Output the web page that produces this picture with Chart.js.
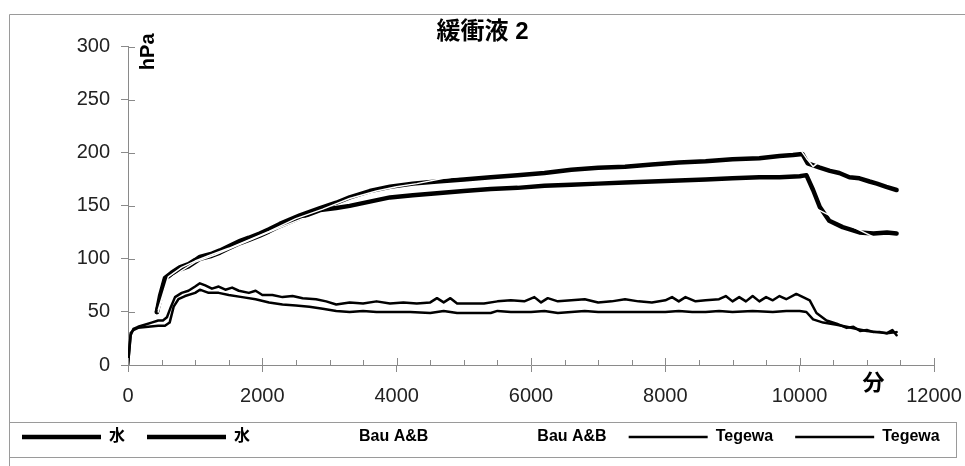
<!DOCTYPE html>
<html>
<head>
<meta charset="utf-8">
<script src="https://cdn.jsdelivr.net/npm/chart.js@4.4.0/dist/chart.umd.min.js"></script>
<style>
  html, body { margin: 0; padding: 0; background: #fff; }
  canvas { display: block; }
</style>
</head>
<body>
<canvas id="buffer" width="965" height="466"></canvas>
<script>

	/* Data: time in minutes, pressure in hPa */
	var chartTitle = '緩衝液 2';
	var seriesNames = ['水', '水', 'Bau A&B', 'Bau A&B', 'Tegewa', 'Tegewa'];
	var xTicks = [0, 2000, 4000, 6000, 8000, 10000, 12000];
	var yTicks = [0, 50, 100, 150, 200, 250, 300];

	var water1Time = [430, 480, 550, 650, 770, 900, 1000, 1070, 1250, 1370, 1500, 1670, 1800, 1960, 2100, 2260, 2560, 2860, 3100, 3300, 3600, 3900, 4240, 4600, 5000, 5400, 5800, 6200, 6600, 7000, 7400, 7800, 8200, 8600, 9000, 9400, 9700, 9900, 10040, 10120, 10300, 10450, 10590, 10740, 10890, 11040, 11150, 11290, 11443];
	var water1 = [50, 66, 82, 87, 92, 95, 99, 102, 105, 108, 112, 117, 120, 124, 128, 133, 141, 148, 153, 158, 164, 168, 171, 173, 175, 177, 179, 181, 184, 186, 187, 189, 191, 192, 194, 195, 197, 198, 199, 190, 186, 183, 181, 177, 176, 173, 171, 168, 165];

	var water2Time = [430, 480, 550, 650, 770, 900, 1070, 1250, 1370, 1500, 1670, 1800, 1960, 2100, 2260, 2560, 2860, 3100, 3300, 3600, 3900, 4240, 4600, 5000, 5400, 5800, 6200, 6600, 7000, 7400, 7800, 8200, 8600, 9000, 9400, 9700, 10000, 10100, 10200, 10300, 10440, 10640, 10890, 11100, 11300, 11443];
	var water2 = [50, 62, 80, 86, 90, 93, 100, 103, 106, 110, 115, 118, 122, 126, 131, 139, 146, 148, 150, 154, 158, 160, 162, 164, 166, 167, 169, 170, 171, 172, 173, 174, 175, 176, 177, 177, 178, 179, 165, 149, 136, 130, 125, 124, 125, 124];

	var bau1Time = [450, 600, 800, 1000, 1200, 1500, 1800, 2100, 2500, 2900, 3300, 3700, 4000, 4300, 4700, 5200, 6000, 7000, 8000, 9000, 10000, 10100, 10200, 10300, 11443];
	var bau1 = [52, 83, 92, 98, 103, 110, 118, 126, 138, 147, 157, 164, 168, 171, 176, 180, 185, 190, 195, 199, 204, 195, 187, 192, 185];

	var bau2Time = [450, 600, 800, 1000, 1300, 1600, 1900, 2200, 2600, 3000, 4000, 6000, 8000, 10000, 11443];
	var bau2 = [50, 80, 89, 97, 104, 112, 120, 128, 138, 140, 145, 150, 153, 155, 110];

	var tegewa1Time = [0, 40, 80, 150, 250, 350, 450, 520, 580, 640, 700, 800, 900, 1000, 1070, 1150, 1250, 1350, 1450, 1550, 1650, 1800, 1900, 2000, 2150, 2300, 2450, 2600, 2800, 2950, 3100, 3300, 3500, 3700, 3900, 4100, 4300, 4500, 4600, 4700, 4800, 4900, 5100, 5300, 5500, 5700, 5900, 6050, 6150, 6250, 6400, 6600, 6800, 7000, 7200, 7400, 7600, 7800, 8000, 8100, 8200, 8300, 8450, 8600, 8800, 8900, 9000, 9100, 9200, 9300, 9400, 9500, 9600, 9700, 9800, 9950, 10050, 10150, 10250, 10400, 10550, 10700, 10800, 10900, 11000, 11100, 11200, 11300, 11380, 11443];
	var tegewa1 = [0, 28, 34, 36, 38, 40, 42, 42, 45, 55, 64, 68, 70, 74, 77, 75, 72, 74, 71, 73, 70, 68, 70, 66, 66, 64, 65, 63, 62, 60, 57, 59, 58, 60, 58, 59, 58, 59, 63, 59, 63, 58, 58, 58, 60, 61, 60, 64, 59, 63, 60, 61, 62, 59, 60, 62, 60, 59, 61, 64, 60, 64, 60, 61, 62, 65, 60, 64, 60, 65, 60, 64, 61, 65, 62, 67, 64, 61, 49, 42, 39, 35, 36, 32, 33, 31, 31, 30, 33, 28];

	var tegewa2Time = [0, 40, 80, 150, 300, 450, 550, 620, 680, 750, 850, 1000, 1070, 1200, 1350, 1500, 1700, 1900, 2100, 2300, 2500, 2700, 2900, 3100, 3300, 3500, 3700, 3900, 4200, 4500, 4700, 4900, 5100, 5400, 5500, 5700, 6000, 6200, 6400, 6600, 6800, 7000, 7300, 7600, 8000, 8200, 8400, 8600, 8800, 9000, 9300, 9600, 9800, 10000, 10100, 10200, 10350, 10550, 10700, 10850, 11000, 11150, 11300, 11443];
	var tegewa2 = [0, 30, 33, 35, 36, 37, 37, 40, 55, 62, 65, 68, 71, 68, 68, 66, 64, 62, 59, 57, 56, 55, 53, 51, 50, 51, 50, 50, 50, 49, 51, 49, 49, 49, 51, 50, 50, 51, 49, 50, 51, 50, 50, 50, 50, 51, 50, 50, 51, 50, 51, 50, 51, 51, 50, 43, 40, 38, 36, 34, 32, 31, 30, 31];


	/* Helpers */
	function toPoints(times, values) {
		var points = [];
		times.forEach(function(t, i) {
			points.push({ x: t, y: values[i] });
		});
		return points;
	}

	function plainNumber(value) {
		return String(value);
	}

	var fontFamily = "'Liberation Sans', Arial, 'Noto Sans CJK JP', sans-serif";
	var axisGrey = '#8a8a8a';
	var minorStep = 500;


	/* Frame, legend box, tick marks inside the plot and unit labels */
	var decorations = {
		id: 'decorations',
		afterDraw: function(chart) {
			var ctx = chart.ctx;
			var area = chart.chartArea;
			var xs = chart.scales.x;
			var ys = chart.scales.y;
			var legend = chart.legend;

			ctx.save();
			ctx.strokeStyle = axisGrey;
			ctx.lineWidth = 1;
			ctx.beginPath();
			for (var v = xs.min; v <= xs.max; v += minorStep) {
				var px = Math.round(xs.getPixelForValue(v)) + 0.5;
				var len = (v % 2000 === 0) ? 7 : 5;
				ctx.moveTo(px, area.bottom);
				ctx.lineTo(px, area.bottom - len);
			}
			yTicks.forEach(function(t) {
				var py = Math.round(ys.getPixelForValue(t)) + 0.5;
				ctx.moveTo(area.left, py);
				ctx.lineTo(area.left + 7, py);
			});
			ctx.stroke();

			// outer frame (runs past the picture on the right and bottom) + legend box
			var legendTop = Math.round(legend.top + 15) + 0.5;
			var legendBottom = Math.round(legend.bottom + 2) + 0.5;
			ctx.strokeStyle = '#9a9a9a';
			ctx.beginPath();
			ctx.moveTo(9.5, chart.height);
			ctx.lineTo(9.5, 14.5);
			ctx.lineTo(chart.width, 14.5);
			ctx.stroke();
			ctx.strokeRect(9.5, legendTop, chart.width - 18, legendBottom - legendTop);

			// unit labels
			ctx.fillStyle = '#000';
			ctx.textAlign = 'center';
			ctx.textBaseline = 'middle';
			ctx.font = "bold 20px " + fontFamily;
			ctx.save();
			ctx.translate(area.left + 20, area.top + 5);
			ctx.rotate(-Math.PI / 2);
			ctx.fillText('hPa', 0, 0);
			ctx.restore();

			ctx.font = "bold 22px 'Noto Sans CJK JP', sans-serif";
			ctx.fillText('分', xs.getPixelForValue(11100), area.bottom + 17);
			ctx.restore();
		}
	};


	/* Chart */
	var datasets = [
		{ label: seriesNames[0], data: toPoints(water1Time, water1), borderColor: '#000', backgroundColor: '#000', borderWidth: 4.5 },
		{ label: seriesNames[1], data: toPoints(water2Time, water2), borderColor: '#000', backgroundColor: '#000', borderWidth: 4.5 },
		{ label: seriesNames[2], data: toPoints(bau1Time, bau1), borderColor: '#fff', backgroundColor: '#fff', borderWidth: 1.5, order: -1 },
		{ label: seriesNames[3], data: toPoints(bau2Time, bau2), borderColor: '#fff', backgroundColor: '#fff', borderWidth: 1.5, order: -1 },
		{ label: seriesNames[4], data: toPoints(tegewa1Time, tegewa1), borderColor: '#000', backgroundColor: '#000', borderWidth: 2.5 },
		{ label: seriesNames[5], data: toPoints(tegewa2Time, tegewa2), borderColor: '#000', backgroundColor: '#000', borderWidth: 2.5 }
	];

	var chart = new Chart(document.getElementById('buffer'), {
		type: 'line',
		data: { datasets: datasets },
		plugins: [decorations],
		options: {
			responsive: false,
			animation: false,
			devicePixelRatio: 1,
			layout: { padding: { left: 0, right: 0, top: 0, bottom: 11 } },
			elements: {
				point: { radius: 0 },
				line: { tension: 0, borderJoinStyle: 'round', borderCapStyle: 'round' }
			},
			plugins: {
				tooltip: { enabled: false },
				title: {
					display: true,
					text: chartTitle,
					color: '#000',
					font: { family: fontFamily, size: 24, weight: 'bold', lineHeight: 1.2 },
					padding: { top: 18, bottom: 0 }
				},
				legend: {
					position: 'bottom',
					align: 'start',
					labels: {
						usePointStyle: true,
						pointStyle: 'line',
						pointStyleWidth: 79,
						padding: 22,
						color: '#000',
						font: { family: fontFamily, size: 16, weight: 'bold' },
						sort: function(a, b) { return a.datasetIndex - b.datasetIndex; }
					}
				}
			},
			scales: {
				x: {
					type: 'linear',
					min: 0,
					max: 12000,
					afterBuildTicks: function(scale) {
						scale.ticks = xTicks.map(function(v) { return { value: v }; });
					},
					afterFit: function(scale) {
						scale.height = 42;
						scale.paddingRight = 31;
					},
					grid: { drawOnChartArea: false, tickLength: 7, color: axisGrey },
					border: { display: true, color: axisGrey },
					ticks: {
						autoSkip: false,
						maxRotation: 0,
						padding: 12,
						color: '#222',
						font: { family: fontFamily, size: 20 },
						callback: plainNumber
					}
				},
				y: {
					min: 0,
					max: 300,
					afterBuildTicks: function(scale) {
						scale.ticks = yTicks.map(function(v) { return { value: v }; });
					},
					afterFit: function(scale) { scale.width = 128; },
					grid: { drawOnChartArea: false, tickLength: 7, color: axisGrey },
					border: { display: true, color: axisGrey },
					ticks: {
						padding: 11,
						color: '#222',
						font: { family: fontFamily, size: 20 },
						callback: plainNumber
					}
				}
			}
		}
	});

</script>
</body>
</html>
